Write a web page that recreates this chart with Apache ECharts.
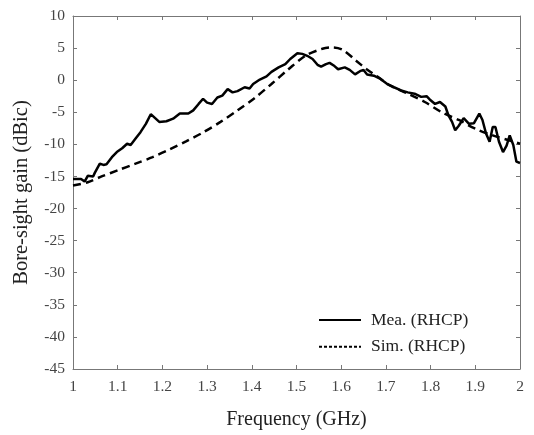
<!DOCTYPE html>
<html>
<head>
<meta charset="utf-8">
<script src="https://cdn.jsdelivr.net/npm/echarts@6/dist/echarts.min.js"></script>
<style>html,body{margin:0;padding:0;background:#fff}#c{width:534px;height:435px}</style>
</head>
<body>
<div id="c"></div>
<script>
const measFreq = [1.000,1.018,1.026,1.033,1.045,1.049,1.060,1.068,1.075,1.087,1.098,1.110,1.121,1.129,1.140,1.151,1.163,1.174,1.193,1.209,1.224,1.239,1.258,1.269,1.281,1.291,1.300,1.311,1.323,1.334,1.346,1.357,1.368,1.384,1.395,1.403,1.418,1.433,1.444,1.460,1.475,1.486,1.502,1.513,1.524,1.536,1.547,1.555,1.566,1.574,1.585,1.593,1.608,1.619,1.631,1.642,1.650,1.658,1.673,1.688,1.703,1.718,1.734,1.749,1.764,1.779,1.791,1.798,1.810,1.821,1.833,1.840,1.848,1.855,1.863,1.874,1.886,1.897,1.909,1.916,1.924,1.932,1.939,1.945,1.953,1.962,1.970,1.977,1.985,1.992,2.000];
const measGain = [-15.4,-15.4,-15.8,-14.9,-15.0,-14.4,-13.0,-13.2,-13.1,-12.0,-11.2,-10.6,-9.9,-10.1,-9.1,-8.1,-6.8,-5.3,-6.5,-6.4,-6.0,-5.2,-5.2,-4.7,-3.7,-2.9,-3.5,-3.7,-2.7,-2.4,-1.4,-1.9,-1.7,-1.1,-1.3,-0.6,0.1,0.6,1.3,2.0,2.5,3.3,4.2,4.1,3.8,3.3,2.4,2.1,2.5,2.7,2.2,1.7,2.0,1.6,0.9,1.4,1.6,0.9,0.7,0.2,-0.6,-1.1,-1.6,-1.9,-2.1,-2.6,-2.5,-3.0,-3.7,-3.4,-4.1,-5.5,-6.5,-7.8,-7.1,-5.9,-6.8,-6.7,-5.2,-6.2,-8.3,-9.6,-7.3,-7.3,-9.6,-11.2,-10.2,-8.6,-10.1,-12.7,-12.9];
const simFreq = [1.000,1.033,1.064,1.102,1.140,1.178,1.216,1.254,1.292,1.330,1.368,1.406,1.444,1.482,1.520,1.558,1.581,1.604,1.634,1.657,1.680,1.711,1.749,1.787,1.825,1.863,1.901,1.939,1.977,2.000];
const simGain = [-16.4,-15.9,-15.0,-14.0,-13.0,-12.0,-10.8,-9.5,-8.1,-6.5,-4.7,-2.8,-0.6,1.7,3.8,4.9,5.1,4.7,3.0,1.7,0.6,-0.9,-2.1,-3.4,-5.0,-6.2,-7.6,-8.6,-9.4,-9.9];
const xTicks = {min: 1, max: 2, interval: 0.1};
const yTicks = {min: -45, max: 10, interval: 5};
const seriesNames = ['Mea. (RHCP)', 'Sim. (RHCP)'];

const font = 'Liberation Serif';
const axisCol = '#777';
const meas = measFreq.map((f, i) => [f, measGain[i]]);
const sim = simFreq.map((f, i) => [f, simGain[i]]);

const chart = echarts.init(document.getElementById('c'), null, {renderer: 'canvas'});
const baseAxis = {
  axisLine: {show: true, onZero: false, lineStyle: {color: axisCol, width: 1}},
  axisTick: {show: true, inside: true, length: 4, lineStyle: {color: axisCol}},
  splitLine: {show: false}
};
chart.setOption({
  animation: false,
  backgroundColor: '#fff',
  grid: {left: 73, right: 14, top: 16, bottom: 63},
  legend: {
    orient: 'vertical', left: 313, top: 306, itemGap: 8.7, itemWidth: 42, itemHeight: 14,
    itemStyle: {opacity: 0},
    textStyle: {fontFamily: font, fontSize: 17.5, lineHeight: 18, color: '#222', padding: [0, 0, 0, 5]},
    data: [
      {name: seriesNames[0]},
      {name: seriesNames[1], lineStyle: {type: [3, 2], width: 2}}
    ]
  },
  xAxis: [
    Object.assign({}, baseAxis, {
      type: 'value', min: xTicks.min, max: xTicks.max, interval: xTicks.interval,
      name: 'Frequency (GHz)', nameLocation: 'middle', nameGap: 41,
      nameTextStyle: {fontFamily: font, fontSize: 20, color: '#222'},
      axisLabel: {fontFamily: font, fontSize: 15.5, color: '#444', margin: 10,
        formatter: v => String(Math.round(v * 10) / 10)}
    }),
    Object.assign({}, baseAxis, {
      type: 'value', position: 'top', min: xTicks.min, max: xTicks.max, interval: xTicks.interval,
      axisLabel: {show: false}
    })
  ],
  yAxis: [
    Object.assign({}, baseAxis, {
      type: 'value', min: yTicks.min, max: yTicks.max, interval: yTicks.interval,
      name: 'Bore-sight gain (dBic)', nameLocation: 'middle', nameGap: 41,
      nameTextStyle: {fontFamily: font, fontSize: 20.5, color: '#222'},
      axisLabel: {fontFamily: font, fontSize: 15.5, color: '#444', margin: 8}
    }),
    Object.assign({}, baseAxis, {
      type: 'value', position: 'right', min: yTicks.min, max: yTicks.max, interval: yTicks.interval,
      axisLabel: {show: false}
    })
  ],
  series: [
    {name: seriesNames[0], type: 'line', data: meas, symbol: 'none', showSymbol: false,
     lineStyle: {color: '#000', width: 2.5, type: 'solid'}, itemStyle: {color: '#000'}},
    {name: seriesNames[1], type: 'line', data: sim, symbol: 'none', showSymbol: false, smooth: 0.3,
     lineStyle: {color: '#000', width: 2.5, type: [8, 5]}, itemStyle: {color: '#000'}}
  ]
});
</script>
</body>
</html>
